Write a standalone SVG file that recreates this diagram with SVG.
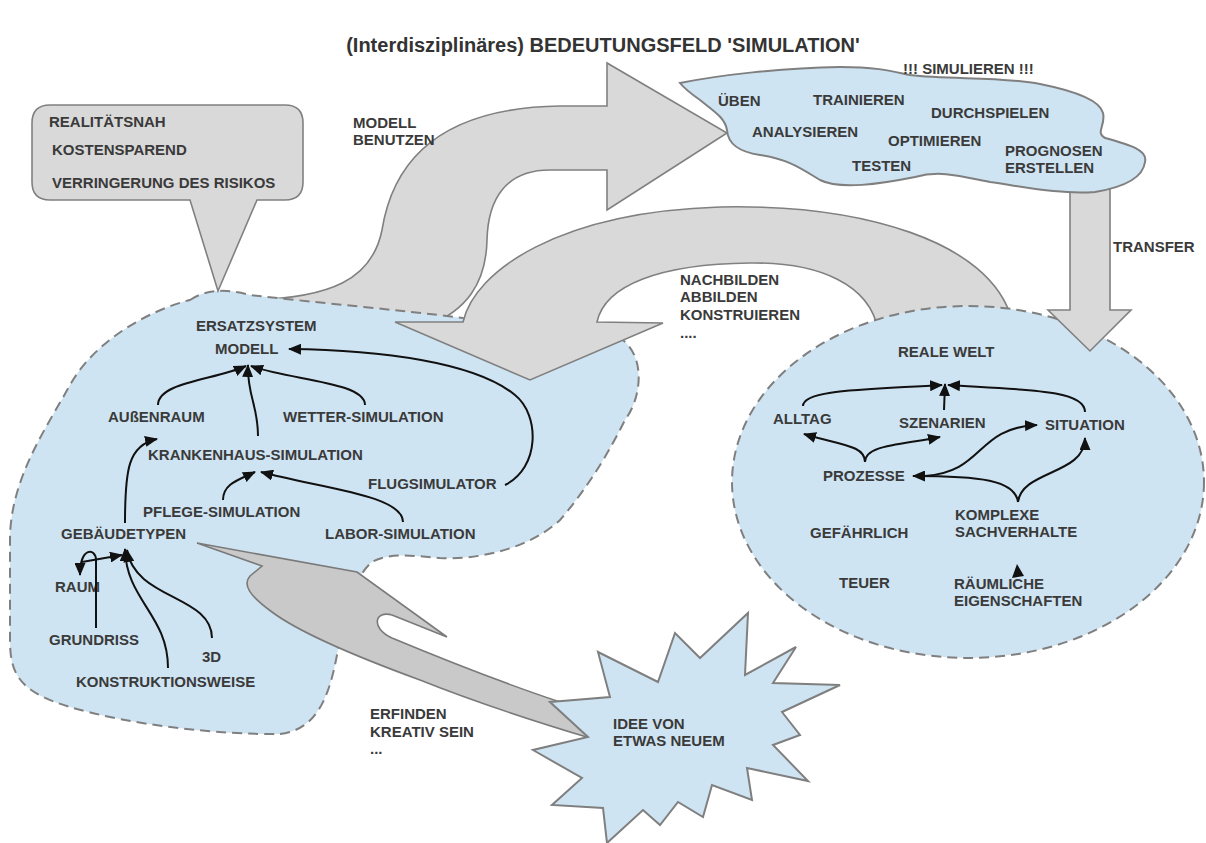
<svg xmlns="http://www.w3.org/2000/svg" width="1206" height="843" viewBox="0 0 1206 843">
<style>
.t{font-family:"Liberation Sans",Arial,sans-serif;font-weight:bold;font-size:15px;fill:#3a3a3a}
.title{font-family:"Liberation Sans",Arial,sans-serif;font-weight:bold;font-size:20px;fill:#333}
.blue{fill:#cfe4f2;stroke:#7f7f7f;stroke-width:2}
.dash{stroke-dasharray:10 6}
.gray{fill:#d9d9d9;stroke:#808080;stroke-width:1.6}
.gray2{fill:#c9c9c9;stroke:#7a7a7a;stroke-width:1.6}
.c{fill:none;stroke:#111;stroke-width:2;marker-end:url(#ah)}
</style>
<defs>
<marker id="ah" viewBox="0 0 13 11" refX="12" refY="5.5" markerWidth="13" markerHeight="11" orient="auto" markerUnits="userSpaceOnUse"><path d="M0,0 L13,5.5 L0,11 Z" fill="#111"/></marker>
</defs>
<rect width="1206" height="843" fill="#fff"/>
<text class="title" x="603" y="52" text-anchor="middle">(Interdisziplinäres) BEDEUTUNGSFELD 'SIMULATION'</text>

<g id="arrow-modell-benutzen">
<path class="gray" d="M250,300 C330,298 372,280 382,230 C390,180 420,108 560,106 L607,106 L607,63 L727,133 L607,210 L607,170 L550,170 C505,170 488,200 487,240 C486,285 465,310 430,325 L250,330 Z"/>
</g>

<g id="ersatzsystem">
<path class="blue dash" d="M190,300 C205,290 225,288 250,295 C320,303 400,310 463,318 C540,326 610,322 628,345 C645,365 640,400 625,420 C610,450 590,485 560,520 C530,548 480,560 440,558 C415,556 390,552 372,562 C350,580 342,630 336,660 C328,700 315,730 280,734 C220,735 130,725 70,707 C20,692 10,675 10,640 L10,540 C10,480 45,430 70,385 C95,340 150,310 190,300 Z"/>
</g>

<g id="arrow-nachbilden">
<path class="gray" d="M395,322 L463,322 C475,270 560,212 720,207 C860,204 990,240 1012,320 L878,330 C870,285 820,262 750,263 C660,264 605,285 597,322 L663,323 L530,380 Z"/>
</g>

<g id="reale-welt">
<ellipse class="blue dash" cx="968" cy="482" rx="236" ry="176"/>
</g>

<g id="arrow-transfer">
<path class="gray" d="M1070,185 L1110,185 L1110,310 L1131,310 L1090,351 L1048,310 L1070,310 Z"/>
</g>

<g id="simulieren">
<path class="blue" d="M680,83 C720,75 780,68 840,67 C880,67 895,72 910,75 C950,80 1000,76 1040,84 C1075,91 1100,100 1103,113 C1106,125 1095,133 1105,138 C1130,145 1148,150 1145,162 C1143,178 1125,187 1095,192 C1060,195 1020,186 990,182 C960,176 940,170 915,177 C880,184 840,190 820,180 C800,168 790,160 760,155 C740,152 728,145 727,130 C725,118 715,112 700,100 C690,93 684,88 680,83 Z"/>
</g>

<g id="callout">
<path class="gray" d="M50,105 L285,105 Q303,105 303,123 L303,182 Q303,200 285,200 L257,200 L218,291 L190,200 L50,200 Q32,200 32,182 L32,123 Q32,105 50,105 Z"/>
<text class="t" x="49" y="127">REALITÄTSNAH</text>
<text class="t" x="52" y="155">KOSTENSPAREND</text>
<text class="t" x="52" y="188">VERRINGERUNG DES RISIKOS</text>
</g>

<g id="arrow-erfinden">
<path class="gray2" d="M197,543 L357,572 L447,637 L392,615 C375,610 370,628 392,638 C440,658 500,682 560,702 L590,738 C530,720 470,700 420,680 C360,658 300,633 272,612 C250,596 242,585 250,576 L262,566 Z"/>
</g>

<g id="idee">
<polygon class="blue" points="550,702 610,697 598,652 658,682 675,633 700,658 748,613 745,675 796,647 773,683 840,685 782,712 800,735 773,745 808,781 747,768 752,800 712,785 703,817 678,802 660,825 643,810 607,843 603,808 552,805 582,778 533,750 588,737"/>
<text class="t" x="613" y="729">IDEE VON</text>
<text class="t" x="613" y="746">ETWAS NEUEM</text>
</g>

<g id="labels-arrows">
<text class="t" x="353" y="128">MODELL</text>
<text class="t" x="353" y="145">BENUTZEN</text>
<text class="t" x="680" y="285">NACHBILDEN</text>
<text class="t" x="680" y="302">ABBILDEN</text>
<text class="t" x="680" y="320">KONSTRUIEREN</text>
<text class="t" x="680" y="338">....</text>
<text class="t" x="1113" y="252">TRANSFER</text>
<text class="t" x="370" y="719">ERFINDEN</text>
<text class="t" x="370" y="737">KREATIV SEIN</text>
<text class="t" x="370" y="754">...</text>
</g>

<g id="cloud-labels">
<text class="t" x="903" y="74">!!! SIMULIEREN !!!</text>
<text class="t" x="718" y="106">ÜBEN</text>
<text class="t" x="813" y="105">TRAINIEREN</text>
<text class="t" x="931" y="118">DURCHSPIELEN</text>
<text class="t" x="752" y="137">ANALYSIEREN</text>
<text class="t" x="888" y="146">OPTIMIEREN</text>
<text class="t" x="1005" y="156">PROGNOSEN</text>
<text class="t" x="1005" y="173">ERSTELLEN</text>
<text class="t" x="852" y="171">TESTEN</text>
</g>

<g id="n-ersatzsystem"><text class="t" x="196" y="331">ERSATZSYSTEM</text></g>
<g id="n-modell"><text class="t" x="215" y="354">MODELL</text></g>
<g id="n-aussenraum"><text class="t" x="108" y="422">AUßENRAUM</text></g>
<g id="n-wetter"><text class="t" x="283" y="422">WETTER-SIMULATION</text></g>
<g id="n-krankenhaus"><text class="t" x="148" y="460">KRANKENHAUS-SIMULATION</text></g>
<g id="n-flug"><text class="t" x="368" y="489">FLUGSIMULATOR</text></g>
<g id="n-pflege"><text class="t" x="143" y="517">PFLEGE-SIMULATION</text></g>
<g id="n-gebaeude"><text class="t" x="61" y="539">GEBÄUDETYPEN</text></g>
<g id="n-labor"><text class="t" x="325" y="539">LABOR-SIMULATION</text></g>
<g id="n-raum"><text class="t" x="55" y="592">RAUM</text></g>
<g id="n-grundriss"><text class="t" x="49" y="645">GRUNDRISS</text></g>
<g id="n-3d"><text class="t" x="202" y="662">3D</text></g>
<g id="n-konstruktion"><text class="t" x="76" y="687">KONSTRUKTIONSWEISE</text></g>

<g id="n-realewelt"><text class="t" x="898" y="357">REALE WELT</text></g>
<g id="n-alltag"><text class="t" x="773" y="424">ALLTAG</text></g>
<g id="n-szenarien"><text class="t" x="899" y="428">SZENARIEN</text></g>
<g id="n-situation"><text class="t" x="1045" y="430">SITUATION</text></g>
<g id="n-prozesse"><text class="t" x="823" y="481">PROZESSE</text></g>
<g id="n-komplexe"><text class="t" x="955" y="520">KOMPLEXE</text><text class="t" x="955" y="537">SACHVERHALTE</text></g>
<g id="n-gefaehrlich"><text class="t" x="810" y="538">GEFÄHRLICH</text></g>
<g id="n-teuer"><text class="t" x="839" y="588">TEUER</text></g>
<g id="n-raeumlich"><text class="t" x="954" y="589">RÄUMLICHE</text><text class="t" x="954" y="606">EIGENSCHAFTEN</text></g>

<g id="connectors">
<path class="c" d="M158,405 C158,382 215,380 246,366"/>
<path class="c" d="M258,436 C258,405 247,395 248,365"/>
<path class="c" d="M365,405 C365,382 290,380 251,366"/>
<path class="c" d="M223,500 C223,484 238,480 255,472"/>
<path class="c" d="M403,522 C403,495 320,488 261,472"/>
<path class="c" d="M125,523 C125,470 128,445 157,439"/>
<path class="c" d="M505,485 C540,468 540,415 515,395 C475,362 380,350 289,349"/>
<path class="c" d="M168,668 C168,615 126,600 125,549"/>
<path class="c" d="M212,638 C212,595 135,600 127,550"/>
<path class="c" d="M82,562 L122,555"/>
<path class="c" d="M96,628 L96,560 C96,548 80,546 80,575"/>
<path class="c" d="M803,406 C803,390 860,390 942,385"/>
<path class="c" d="M944,410 L945,384"/>
<path class="c" d="M1085,412 C1085,390 1030,390 948,385"/>
<path class="c" d="M865,462 C865,445 840,445 804,434"/>
<path class="c" d="M865,462 C865,445 900,445 940,437"/>
<path class="c" d="M1018,502 C1015,480 980,476 913,476"/>
<path class="c" d="M1018,502 C1022,470 1085,475 1085,438"/>
<path class="c" d="M925,476 C985,472 975,428 1037,425"/>
<polygon points="1017,564 1012,578 1024,576" fill="#111"/>
</g>
</svg>
